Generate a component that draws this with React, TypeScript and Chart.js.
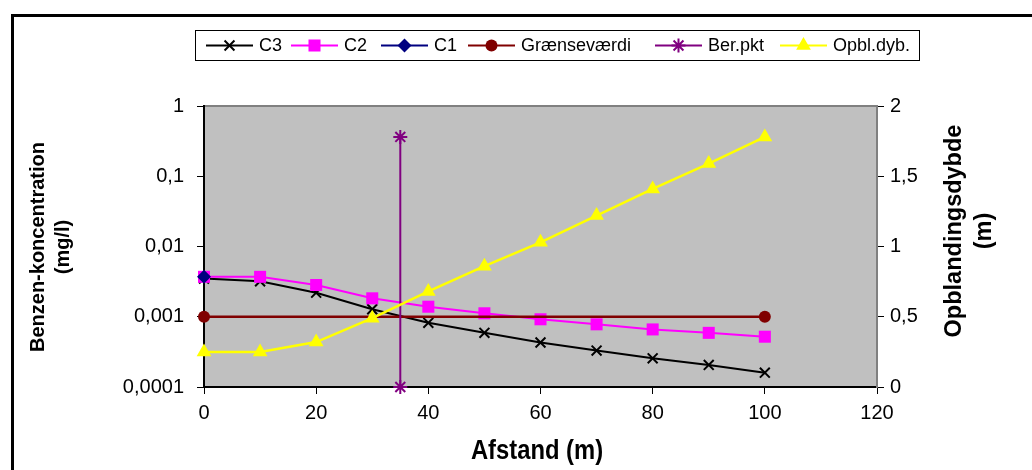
import React, { useEffect, useRef } from 'react';
import { Chart, registerables } from 'chart.js';
import { drawPoint } from 'chart.js/helpers';

Chart.register(...registerables);

// ---- data ----
const distances = [0, 10, 20, 30, 40, 50, 60, 70, 80, 90, 100];
const c3Values = [0.0035, 0.0032, 0.0022, 0.00128, 0.00082, 0.00059, 0.00043, 0.00033, 0.000256, 0.000206, 0.00016];
const c2Values = [0.0037, 0.0037, 0.00283, 0.00183, 0.00139, 0.00112, 0.00092, 0.00078, 0.00066, 0.00059, 0.00052];
const c1Distances = [0];
const c1Values = [0.0037];
const limitDistances = [0, 100];
const limitValues = [0.001, 0.001];
const berDistances = [35, 35];
const berValues = [0, 1.78];
const opblValues = [0.25, 0.25, 0.32, 0.49, 0.68, 0.86, 1.03, 1.22, 1.41, 1.59, 1.78];

const xTickValues = [0, 20, 40, 60, 80, 100, 120];
const yTickValues = [0.0001, 0.001, 0.01, 0.1, 1];
const yTickLabels = ['0,0001', '0,001', '0,01', '0,1', '1'];
const y2TickValues = [0, 0.5, 1, 1.5, 2];
const y2TickLabels = ['0', '0,5', '1', '1,5', '2'];

const seriesNames = ['C3', 'C2', 'C1', 'Grænseværdi', 'Ber.pkt', 'Opbl.dyb.'];
const xTitle = 'Afstand (m)';
const yTitle = ['Benzen-koncentration', '(mg/l)'];
const y2Title = ['Opblandingsdybde', '(m)'];

const FONT = '"Liberation Sans", Arial, Helvetica, sans-serif';

const pts = (xs: number[], ys: number[]) => xs.map((x, i) => ({ x, y: ys[i] }));

const decoPlugin = {
  id: 'deco',
  beforeDraw(chart: any) {
    const { ctx, chartArea } = chart;
    const { left, top, right, bottom } = chartArea;
    ctx.save();
    ctx.fillStyle = '#ffffff';
    ctx.fillRect(0, 0, chart.width, chart.height);
    ctx.strokeStyle = '#000000';
    ctx.lineWidth = 3;
    ctx.strokeRect(12.5, 15.5, 1200, 700);
    ctx.fillStyle = '#C0C0C0';
    ctx.fillRect(left, top, right - left, bottom - top);
    ctx.strokeStyle = '#808080';
    ctx.lineWidth = 2;
    ctx.beginPath();
    ctx.moveTo(left, top);
    ctx.lineTo(right, top);
    ctx.stroke();
    ctx.restore();
  },
  afterDraw(chart: any) {
    const { ctx } = chart;
    ctx.save();
    // axis titles
    ctx.fillStyle = '#000';
    ctx.textAlign = 'center';
    ctx.textBaseline = 'middle';
    ctx.font = `bold 28px ${FONT}`;
    ctx.save();
    ctx.translate(537, 451);
    ctx.scale(0.85, 1);
    ctx.fillText(xTitle, 0, 0);
    ctx.restore();

    ctx.font = `bold 20px ${FONT}`;
    ctx.save();
    ctx.translate(38, 247);
    ctx.rotate(-Math.PI / 2);
    ctx.fillText(yTitle[0], 0, 0);
    ctx.restore();
    ctx.save();
    ctx.translate(63, 247);
    ctx.rotate(-Math.PI / 2);
    ctx.fillText(yTitle[1], 0, 0);
    ctx.restore();

    ctx.font = `bold 23.5px ${FONT}`;
    ctx.save();
    ctx.translate(955, 231);
    ctx.rotate(-Math.PI / 2);
    ctx.fillText(y2Title[0], 0, 0);
    ctx.restore();
    ctx.save();
    ctx.translate(985, 231);
    ctx.rotate(-Math.PI / 2);
    ctx.fillText(y2Title[1], 0, 0);
    ctx.restore();

    // legend
    ctx.fillStyle = '#ffffff';
    ctx.fillRect(195.5, 30.5, 724, 30);
    ctx.strokeStyle = '#000';
    ctx.lineWidth = 1;
    ctx.strokeRect(195.5, 30.5, 724, 30);
    const lineStarts = [206, 291, 381, 468, 655, 780];
    const ly = 45.5;
    ctx.font = `18px ${FONT}`;
    ctx.textAlign = 'left';
    chart.data.datasets.forEach((ds: any, i: number) => {
      const x0 = lineStarts[i];
      ctx.strokeStyle = ds.borderColor;
      ctx.lineWidth = 2;
      ctx.beginPath();
      ctx.moveTo(x0, ly);
      ctx.lineTo(x0 + 47, ly);
      ctx.stroke();
      ctx.fillStyle = ds.pointBackgroundColor;
      ctx.strokeStyle = ds.borderColor;
      ctx.lineWidth = ds.pointBorderWidth;
      drawPoint(ctx, { pointStyle: ds.pointStyle, radius: ds.pointRadius, rotation: 0, borderWidth: ds.pointBorderWidth } as any, x0 + 23.5, ly);
      ctx.fillStyle = '#000';
      ctx.fillText(ds.label, x0 + 53, ly + 1);
    });
    ctx.restore();
  },
};

export default function App() {
  const ref = useRef<HTMLCanvasElement | null>(null);
  useEffect(() => {
    if (!ref.current) return;
    const tickFont = { family: FONT, size: 20 };
    const chart = new Chart(ref.current, {
      type: 'line',
      data: {
        datasets: [
          {
            label: seriesNames[0], data: pts(distances, c3Values), yAxisID: 'y',
            borderColor: '#000000', backgroundColor: '#000000', pointBackgroundColor: '#000000',
            borderWidth: 2, pointStyle: 'crossRot', pointRadius: 7, pointHoverRadius: 7, pointBorderWidth: 2, order: 6,
          },
          {
            label: seriesNames[1], data: pts(distances, c2Values), yAxisID: 'y',
            borderColor: '#FF00FF', backgroundColor: '#FF00FF', pointBackgroundColor: '#FF00FF',
            borderWidth: 2, pointStyle: 'rect', pointRadius: 8.5, pointHoverRadius: 8.5, pointBorderWidth: 0, order: 5,
          },
          {
            label: seriesNames[2], data: pts(c1Distances, c1Values), yAxisID: 'y',
            borderColor: '#000080', backgroundColor: '#000080', pointBackgroundColor: '#000080',
            borderWidth: 2, pointStyle: 'rectRot', pointRadius: 7, pointHoverRadius: 7, pointBorderWidth: 0, order: 4,
          },
          {
            label: seriesNames[3], data: pts(limitDistances, limitValues), yAxisID: 'y',
            borderColor: '#800000', backgroundColor: '#800000', pointBackgroundColor: '#800000',
            borderWidth: 2.5, pointStyle: 'circle', pointRadius: 6, pointHoverRadius: 6, pointBorderWidth: 0, order: 3,
          },
          {
            label: seriesNames[4], data: pts(berDistances, berValues), yAxisID: 'y2',
            borderColor: '#800080', backgroundColor: '#800080', pointBackgroundColor: '#800080',
            borderWidth: 2, pointStyle: 'star', pointRadius: 7, pointHoverRadius: 7, pointBorderWidth: 2, order: 2,
          },
          {
            label: seriesNames[5], data: pts(distances, opblValues), yAxisID: 'y2',
            borderColor: '#FFFF00', backgroundColor: '#FFFF00', pointBackgroundColor: '#FFFF00',
            borderWidth: 2.5, pointStyle: 'triangle', pointRadius: 8.5, pointHoverRadius: 8.5, pointBorderWidth: 0, order: 1,
          },
        ] as any,
      },
      options: {
        animation: false,
        responsive: false,
        maintainAspectRatio: false,
        clip: false as any,
        layout: { padding: { top: 106, left: 0, right: 0, bottom: 0 } },
        plugins: { legend: { display: false }, tooltip: { enabled: false }, title: { display: false } },
        elements: { line: { tension: 0 } },
        scales: {
          x: {
            type: 'linear', position: 'bottom', min: 0, max: 120,
            afterBuildTicks: (s: any) => { s.ticks = xTickValues.map((v) => ({ value: v })); },
            afterFit: (s: any) => { s.height = 83; },
            grid: { drawOnChartArea: false, drawTicks: true, tickLength: 7, color: '#000', lineWidth: 1 },
            border: { color: '#000', width: 2 },
            ticks: { color: '#000', font: tickFont, padding: 7, maxRotation: 0, autoSkip: false, callback: (v: any) => String(v) },
          },
          y: {
            type: 'logarithmic', position: 'left', min: 0.0001, max: 1,
            afterBuildTicks: (s: any) => { s.ticks = yTickValues.map((v) => ({ value: v })); },
            afterFit: (s: any) => { s.width = 204; },
            grid: { drawOnChartArea: false, drawTicks: true, tickLength: 7, color: '#000', lineWidth: 1 },
            border: { color: '#000', width: 2 },
            ticks: {
              color: '#000', font: tickFont, padding: 13, autoSkip: false,
              callback: (v: any) => { const i = yTickValues.findIndex((t) => Math.abs(t - v) / t < 1e-6); return i >= 0 ? yTickLabels[i] : ''; },
            },
          },
          y2: {
            type: 'linear', position: 'right', min: 0, max: 2,
            afterBuildTicks: (s: any) => { s.ticks = y2TickValues.map((v) => ({ value: v })); },
            afterFit: (s: any) => { s.width = 155; },
            grid: { drawOnChartArea: false, drawTicks: true, tickLength: 7, color: '#000', lineWidth: 1 },
            border: { color: '#808080', width: 2 },
            ticks: {
              color: '#000', font: tickFont, padding: 6, autoSkip: false,
              callback: (v: any) => { const i = y2TickValues.indexOf(v); return i >= 0 ? y2TickLabels[i] : ''; },
            },
          },
        },
      } as any,
      plugins: [decoPlugin],
    });
    return () => chart.destroy();
  }, []);
  return (
    <div style={{ position: 'fixed', left: 0, top: 0, width: 1032, height: 470, background: '#fff' }}>
      <canvas ref={ref} width={1032} height={470} style={{ display: 'block' }} />
    </div>
  );
}
